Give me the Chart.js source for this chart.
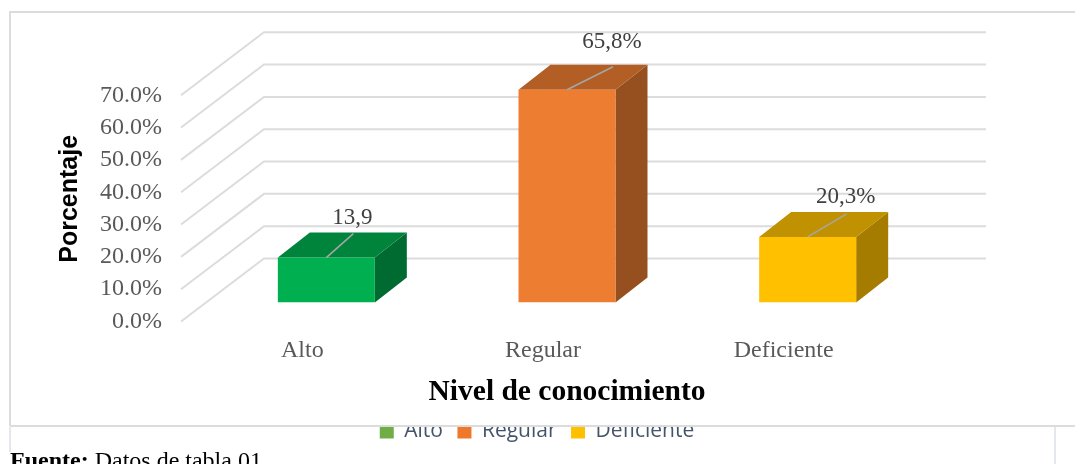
<!DOCTYPE html>
<html><head><meta charset="utf-8">
<style>html,body{margin:0;padding:0;background:#fff;overflow:hidden}#w{width:1075px;height:464px;position:relative}</style>
<script src="https://cdn.jsdelivr.net/npm/chart.js@4/dist/chart.umd.min.js"></script>
</head><body><div id="w"><canvas id="c" width="1075" height="464"></canvas></div>
<script>
const categories = ['Alto', 'Regular', 'Deficiente'];
const percentages = [13.9, 65.8, 20.3];
const valueLabels = ['13,9', '65,8%', '20,3%'];
const yTicks = [0, 10, 20, 30, 40, 50, 60, 70];

const frontColors = ['#00B050', '#ED7D31', '#FFC000'];
const topColors = ['#00843C', '#B25E25', '#C09100'];
const sideColors = ['#006B31', '#964F1E', '#A67C00'];
const legendColors = ['#70AD47', '#F0782A', '#FFC000'];
const leaderTips = [[27, -24], [46, -23], [39, -23]];
const labelGaps = [[26, -40], [45, -48], [38, -40]];
const serif = '"Liberation Serif"';
const GRID = '#DCDCDC';

const box3d = {
  id: 'box3d',
  afterLayout(chart) {
    chart.legend.left += 73; chart.legend.right += 73;
  },
  afterUpdate(chart) {
    const s = chart.scales.y;
    if (s._wrapped) return;
    s._wrapped = true;
    const orig = s.drawTitle;
    s.drawTitle = function () {
      const c = chart.ctx; c.save(); c.translate(55, 9.5); orig.call(this); c.restore();
    };
  },
  beforeDatasetsDraw(chart) {
    const c = chart.ctx, y = chart.scales.y, a = chart.chartArea;
    c.save();
    c.strokeStyle = GRID; c.lineWidth = 2;
    yTicks.forEach(v => {
      const p = y.getPixelForValue(v);
      c.beginPath();
      c.moveTo(a.left - 25, p + 19);
      c.lineTo(a.left + 58, p - 44);
      c.lineTo(a.right + 58, p - 44);
      c.stroke();
    });
    const dx = 32, dy = 25;
    chart.getDatasetMeta(0).data.forEach((b, i) => {
      const L = b.x - b.width / 2, R = b.x + b.width / 2, T = b.y, B = b.base;
      c.fillStyle = sideColors[i];
      c.beginPath(); c.moveTo(R, T); c.lineTo(R + dx, T - dy); c.lineTo(R + dx, B - dy); c.lineTo(R, B); c.closePath(); c.fill();
      c.fillStyle = topColors[i];
      c.beginPath(); c.moveTo(L, T); c.lineTo(L + dx, T - dy); c.lineTo(R + dx, T - dy); c.lineTo(R, T); c.closePath(); c.fill();
    });
    c.restore();
  },
  afterDatasetsDraw(chart) {
    const c = chart.ctx;
    c.save();
    chart.getDatasetMeta(0).data.forEach((b, i) => {
      c.strokeStyle = '#A6A6A6'; c.lineWidth = 1.6;
      c.beginPath(); c.moveTo(b.x, b.y); c.lineTo(b.x + leaderTips[i][0], b.y + leaderTips[i][1]); c.stroke();
      c.fillStyle = '#404040'; c.font = '23px ' + serif; c.textAlign = 'center'; c.textBaseline = 'middle';
      c.fillText(valueLabels[i], b.x + labelGaps[i][0], b.y + labelGaps[i][1]);
    });
    c.restore();
  },
  afterDraw(chart) {
    const c = chart.ctx;
    c.save();
    c.fillStyle = '#fff'; c.fillRect(360, 405, 350, 21);
    c.strokeStyle = GRID; c.lineWidth = 2;
    c.beginPath(); c.moveTo(1075, 12); c.lineTo(10, 12); c.lineTo(10, 426); c.stroke();
    c.beginPath(); c.moveTo(10, 426); c.lineTo(1075, 426); c.stroke();
    c.strokeStyle = '#E4E8EE';
    c.beginPath(); c.moveTo(10, 427); c.lineTo(10, 452); c.stroke();
    c.beginPath(); c.moveTo(1055, 427); c.lineTo(1055, 464); c.stroke();
    c.fillStyle = '#000'; c.textAlign = 'left'; c.textBaseline = 'alphabetic';
    c.font = 'bold 24px ' + serif;
    c.fillText('Fuente:', 10, 468);
    const w = c.measureText('Fuente: ').width;
    c.font = '24px ' + serif;
    c.fillText('Datos de tabla 01', 10 + w, 468);
    c.restore();
  }
};

new Chart(document.getElementById('c'), {
  type: 'bar',
  data: {
    labels: categories,
    datasets: [{ label: 'Porcentaje', data: percentages, backgroundColor: frontColors, borderWidth: 0, categoryPercentage: 1, barPercentage: 0.403 }]
  },
  plugins: [box3d],
  options: {
    responsive: false,
    animation: false,
    layout: { padding: { top: 76.25, left: 0, right: 147, bottom: 12 } },
    plugins: {
      tooltip: { enabled: false },
      legend: {
        position: 'bottom',
        labels: {
          boxWidth: 14, boxHeight: 14, padding: 14.5,
          color: '#44546A', font: { family: '"Open Sans"', size: 21 },
          generateLabels: () => categories.map((t, i) => ({ text: t, fillStyle: legendColors[i], strokeStyle: legendColors[i], lineWidth: 0, index: i, fontColor: '#44546A' }))
        }
      }
    },
    scales: {
      x: {
        afterFit(s) { s.height = 104; },
        grid: { display: false }, border: { display: false },
        ticks: { color: '#595959', font: { family: serif, size: 24 }, labelOffset: -24, padding: 26, maxRotation: 0 },
        title: { display: true, text: 'Nivel de conocimiento', color: '#000', font: { family: serif, size: 29.5, weight: 'bold' }, padding: { top: 0, bottom: -4 } }
      },
      y: {
        min: 0, max: 70,
        afterFit(s) { s.width = 206; },
        afterBuildTicks(s) { s.ticks = yTicks.map(v => ({ value: v })); },
        grid: { display: false }, border: { display: false },
        ticks: { autoSkip: false, color: '#595959', font: { family: serif, size: 24 }, labelOffset: 19, padding: 36, callback: v => v.toFixed(1) + '%' },
        title: { display: true, text: 'Porcentaje', color: '#000', font: { family: '"Liberation Sans"', size: 25, weight: 'bold' }, padding: { top: 0, bottom: 0 } }
      }
    }
  }
});
</script></body></html>
